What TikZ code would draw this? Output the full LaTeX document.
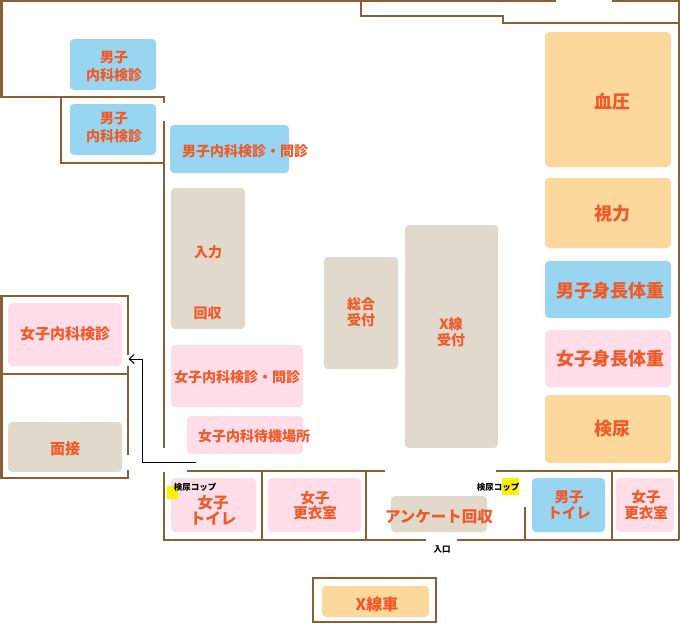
\documentclass[tikz,border=0pt]{standalone}
\usepackage{fontspec}
\newfontfamily\jp{Noto Sans CJK JP}
\usetikzlibrary{arrows.meta}
\definecolor{wallc}{HTML}{8A5F35}
\definecolor{bluec}{HTML}{97D5F0}
\definecolor{peachc}{HTML}{FCD89D}
\definecolor{pinkc}{HTML}{FFDEEA}
\definecolor{beigec}{HTML}{E2D9CD}
\definecolor{txtc}{HTML}{EF5A28}
\definecolor{yelc}{HTML}{FFF000}
\tikzset{
  wall/.style={draw=wallc, line width=2.7pt},
  room/.style={rounded corners=4pt, fill=#1},
  lbl/.style={text=txtc, font=\jp\bfseries\fontsize{#1}{#1}\selectfont, align=center, inner sep=0pt},
  lbl/.default=14,
  ml/.style={text=txtc, font=\jp\bfseries\fontsize{14}{18}\selectfont, align=center, inner sep=0pt},
  small/.style={text=black, font=\jp\bfseries\fontsize{8.5}{9}\selectfont, inner sep=0pt},
}
\newcommand{\rbox}[6]{\path[room=#2] (#3,#4) rectangle (#5,#6) coordinate (#1);}
\begin{document}
\begin{tikzpicture}[x=1pt,y=-1pt]
\useasboundingbox (0,0) rectangle (680,624);
\fill[white] (0,0) rectangle (680,624);
% walls
\draw[wall] (0,1) -- (556,1);
\draw[wall] (612,1) -- (679,1);
\draw[wall] (1.5,1) -- (1.5,97) -- (164,97) -- (164,103);
\draw[wall] (61,97) -- (61,163) -- (164,163);
\draw[wall] (164,121) -- (164,448);
\draw[wall] (361,1) -- (361,16) -- (503,16) -- (503,23) -- (679,23);
\draw[wall] (679,0) -- (679,540);
\draw[wall] (128,355) -- (128,296) -- (1.5,296) -- (1.5,478) -- (128,478) -- (128,470);
\draw[wall] (128,366) -- (128,455);
\draw[wall] (1.5,374) -- (128,374);
\draw[wall] (164,472) -- (164,540) -- (426,540);
\draw[wall] (457,540) -- (679,540);
\draw[wall] (187,471) -- (385,471);
\draw[wall] (496,471) -- (679,471);
\draw[wall] (262,471) -- (262,540);
\draw[wall] (366,471) -- (366,540);
\draw[wall] (525,507) -- (525,540);
\draw[wall] (612,471) -- (612,540);
\draw[wall] (313,578) rectangle (436,622);
% boxes
\rbox{b1}{bluec}{70}{39}{156}{90}
\rbox{b2}{bluec}{70}{104}{156}{155}
\rbox{b3}{bluec}{170}{125}{289}{173}
\rbox{b4}{beigec}{171}{188}{245}{329}
\rbox{b5}{pinkc}{171}{345}{303}{407}
\rbox{b6}{pinkc}{187}{416}{303}{454}
\rbox{b7}{beigec}{324}{257}{398}{369}
\rbox{b8}{beigec}{405}{225}{498}{448}
\rbox{b9}{peachc}{545}{32}{671}{167}
\rbox{b10}{peachc}{545}{178}{671}{248}
\rbox{b11}{bluec}{545}{261}{671}{318}
\rbox{b12}{pinkc}{545}{330}{671}{387}
\rbox{b13}{peachc}{545}{395}{671}{463}
\rbox{b14}{pinkc}{8}{303}{122}{366}
\rbox{b15}{beigec}{8}{422}{122}{472}
\rbox{b16}{pinkc}{171}{478}{256}{532}
\rbox{b17}{pinkc}{268}{478}{361}{532}
\rbox{b18}{beigec}{391}{496}{487}{532}
\rbox{b19}{bluec}{532}{478}{605}{532}
\rbox{b20}{pinkc}{616}{478}{674}{532}
\rbox{b21}{peachc}{322}{586}{429}{617}
% labels
\node[ml] (t1) at (114,66.5) {男子\\内科検診};
\node[ml] (t2) at (114,128) {男子\\内科検診};
\node[lbl] (t3) at (245,151) {男子内科検診・問診};
\node[lbl] (t4a) at (208,252) {入力};
\node[lbl] (t4b) at (207.5,313) {回収};
\node[lbl] (t5) at (237,377) {女子内科検診・問診};
\node[lbl] (t6) at (254,436) {女子内科待機場所};
\node[ml, font=\jp\bfseries\fontsize{14}{16}\selectfont] (t7) at (361,312) {総合\\受付};
\node[ml, font=\jp\bfseries\fontsize{14}{16}\selectfont] (t8) at (451,332) {X線\\受付};
\node[lbl=18] (t9) at (612,102) {血圧};
\node[lbl=18] (t10) at (612,214) {視力};
\node[lbl=18] (t11) at (610,291) {男子身長体重};
\node[lbl=18] (t12) at (610,359) {女子身長体重};
\node[lbl=18] (t13) at (612,429) {検尿};
\node[lbl=15] (t14) at (65,334) {女子内科検診};
\node[lbl=15] (t15) at (65,449) {面接};
% yellow marks
\fill[yelc] (167,486) rectangle (178,499);
\fill[yelc] (502,478) rectangle (519,495);
\node[small] (c1) at (195,487) {検尿コップ};
\node[small] (c2) at (498,487) {検尿コップ};
\node[ml, font=\jp\bfseries\fontsize{15.5}{16}\selectfont] (t16) at (213,510) {女子\\トイレ};
\node[ml, font=\jp\bfseries\fontsize{14.5}{15}\selectfont] (t17) at (315,505.5) {女子\\更衣室};
\node[lbl=15.5] (t18) at (439,517) {アンケート回収};
\node[ml, font=\jp\bfseries\fontsize{14.5}{16}\selectfont] (t19) at (569,505) {男子\\トイレ};
\node[ml, font=\jp\bfseries\fontsize{14.5}{16}\selectfont] (t20) at (646,505) {女子\\更衣室};
\node[lbl=16] (t21) at (377,604) {X線車};
\node[small] (ent) at (442,549) {入口};
% arrow
\coordinate (aS) at (196,462);
\coordinate (aC1) at (142,462);
\coordinate (aC2) at (142,359);
\coordinate (aE) at (128.5,359);
\draw[black, line width=1pt, -{Straight Barb[length=5pt,width=9pt]}] (aS) -- (aC1) -- (aC2) -- (aE);
\end{tikzpicture}
\end{document}
